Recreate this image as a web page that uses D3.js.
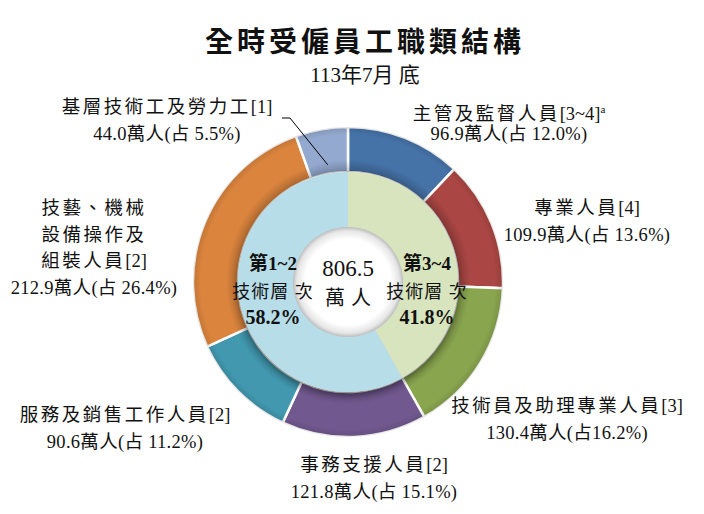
<!DOCTYPE html>
<html>
<head>
<meta charset="utf-8">
<script src="https://cdn.jsdelivr.net/npm/d3@7"></script>
<style>
  body { margin: 0; background: #fff; }
  text { font-family: "Liberation Serif", "Noto Sans CJK TC", serif; fill: #111; }
</style>
</head>
<body>
<svg id="chart" width="704" height="514"></svg>
<script>
const title = "全時受僱員工職類結構";
const subtitle = "113年7月 底";
const total = "806.5";
const totalUnit = "萬人";

// outer ring, clockwise from 12 o'clock
const categories = ["主管及監督人員[3~4]", "專業人員[4]", "技術員及助理專業人員[3]", "事務支援人員[2]",
    "服務及銷售工作人員[2]", "技藝、機械設備操作及組裝人員[2]", "基層技術工及勞力工[1]"];
const values = [96.9, 109.9, 130.4, 121.8, 90.6, 212.9, 44.0];
const shares = ["12.0", "13.6", "16.2", "15.1", "11.2", "26.4", "5.5"];
const colors = ["#4572a7", "#aa4643", "#89a54e", "#71588f", "#4198af", "#db843d", "#93a9cf"];

// inner ring
const tiers = ["第3~4", "第1~2"];
const tierShares = [41.8, 58.2];
const tierColors = ["#d7e4bd", "#b7dde8"];

const svg = d3.select("#chart");
const cx = 348, cy = 282;
const rHole = 55, rMid = 110, rOuter = 155;

// titles
svg.append("text").attr("x", 365).attr("y", 52)
    .attr("text-anchor", "middle")
    .style("font-size", "28px").style("font-weight", "bold").style("letter-spacing", "4px")
    .text(title);
svg.append("text").attr("x", 365).attr("y", 82)
    .attr("text-anchor", "middle")
    .style("font-size", "21px")
    .text(subtitle);

const defs = svg.append("defs");
const sh = defs.append("filter").attr("id", "shadow")
    .attr("x", "-20%").attr("y", "-20%").attr("width", "140%").attr("height", "140%");
sh.append("feDropShadow").attr("dx", 0).attr("dy", 3).attr("stdDeviation", 3)
    .attr("flood-color", "#000").attr("flood-opacity", 0.35);

const ringShade = defs.append("radialGradient").attr("id", "ringShade")
    .attr("gradientUnits", "userSpaceOnUse").attr("cx", 0).attr("cy", 0).attr("r", rOuter);
ringShade.append("stop").attr("offset", rMid / rOuter).attr("stop-color", "#000").attr("stop-opacity", 0.22);
ringShade.append("stop").attr("offset", (rMid + 12) / rOuter).attr("stop-color", "#000").attr("stop-opacity", 0);
ringShade.append("stop").attr("offset", 0.95).attr("stop-color", "#000").attr("stop-opacity", 0);
ringShade.append("stop").attr("offset", 1).attr("stop-color", "#000").attr("stop-opacity", 0.12);

const holeGrad = defs.append("radialGradient").attr("id", "holeGrad")
    .attr("cx", "50%").attr("cy", "50%").attr("r", "50%");
holeGrad.append("stop").attr("offset", 0.78).attr("stop-color", "#fff");
holeGrad.append("stop").attr("offset", 0.93).attr("stop-color", "#e6e6e6");
holeGrad.append("stop").attr("offset", 1).attr("stop-color", "#bdbdbd");

const g = svg.append("g").attr("transform", `translate(${cx},${cy})`);

const pie = d3.pie().sort(null).value(d => d);
const outerArcs = pie(values);
const arcOuter = d3.arc().innerRadius(rMid).outerRadius(rOuter);

g.selectAll("path.outer")
    .data(outerArcs)
    .join("path")
    .attr("class", "outer")
    .attr("d", arcOuter)
    .attr("fill", (d, i) => colors[i])
    .attr("stroke", "#fff")
    .attr("stroke-width", 2.5);

g.append("path")
    .attr("d", d3.arc().innerRadius(rMid).outerRadius(rOuter).startAngle(0).endAngle(2 * Math.PI)())
    .attr("fill", "url(#ringShade)")
    .style("pointer-events", "none");

const arcInner = d3.arc().innerRadius(0).outerRadius(rMid);
const inner = g.append("g").attr("filter", "url(#shadow)");
inner.selectAll("path")
    .data(pie(tierShares))
    .join("path")
    .attr("d", arcInner)
    .attr("fill", (d, i) => tierColors[i]);

g.append("circle").attr("r", rHole).attr("fill", "url(#holeGrad)");

// centre total
g.append("text").attr("y", -6).attr("text-anchor", "middle")
    .style("font-size", "23px").text(total);
g.append("text").attr("x", 3).attr("y", 23).attr("text-anchor", "middle")
    .style("font-size", "20px").style("letter-spacing", "6px").text(totalUnit);

// tier labels
const tierPos = [[79, 0], [-75, 0]];
tiers.forEach((t, i) => {
    const tg = g.append("g").attr("transform", `translate(${tierPos[i][0]},${tierPos[i][1]})`);
    tg.append("text").attr("y", -12).attr("text-anchor", "middle")
        .style("font-size", "19px").style("font-weight", "bold").text(t);
    tg.append("text").attr("y", 16).attr("text-anchor", "middle")
        .style("font-size", "18px").style("letter-spacing", "1px").text("技術層 次");
    tg.append("text").attr("y", 42).attr("text-anchor", "middle")
        .style("font-size", "20px").style("font-weight", "bold").text(tierShares[i].toFixed(1) + "%");
});

// outer labels: label box centre (x, first baseline) on the page
const labelPos = [[509, 120], [587, 214], [567, 412], [374, 471], [125, 421], [94, 214], [167, 113]];
const lineSplit = {5: ["技藝、機械", "設備操作及", "組裝人員[2]"]};
const lh = 26.5;

categories.forEach((c, i) => {
    const lines = lineSplit[i] || [c];
    const t = svg.append("text")
        .attr("x", labelPos[i][0]).attr("y", labelPos[i][1])
        .attr("text-anchor", "middle")
        .style("font-size", "18.5px");
    lines.forEach((ln, k) => {
        const cut = ln.indexOf("[");
        const word = cut < 0 ? ln : ln.slice(0, cut);
        const tag = cut < 0 ? "" : ln.slice(cut);
        t.append("tspan").attr("x", labelPos[i][0]).attr("dy", k === 0 ? 0 : lh)
            .style("letter-spacing", "2.5px").text(word);
        if (tag) t.append("tspan").text(tag);
        if (i === 0 && k === lines.length - 1) {
            t.append("tspan").attr("dy", -7).style("font-size", "11px").text("a");
            t.append("tspan").attr("dy", 7).text("");
        }
    });
    const pad = i === 2 ? "" : " ";
    t.append("tspan").attr("x", labelPos[i][0]).attr("dy", lh)
        .style("letter-spacing", "0.3px")
        .text(`${values[i].toFixed(1)}萬人(占${pad}${shares[i]}%)`);
});

// leader line for the small slice
const last = outerArcs[outerArcs.length - 1];
const mid = (last.startAngle + last.endAngle) / 2;
const tip = [cx + Math.sin(mid) * (rMid + 9), cy - Math.cos(mid) * (rMid + 9)];
svg.append("path")
    .attr("d", d3.line()([tip, [290, 118], [282, 118]]))
    .attr("fill", "none").attr("stroke", "#000").attr("stroke-width", 1);
</script>
</body>
</html>
